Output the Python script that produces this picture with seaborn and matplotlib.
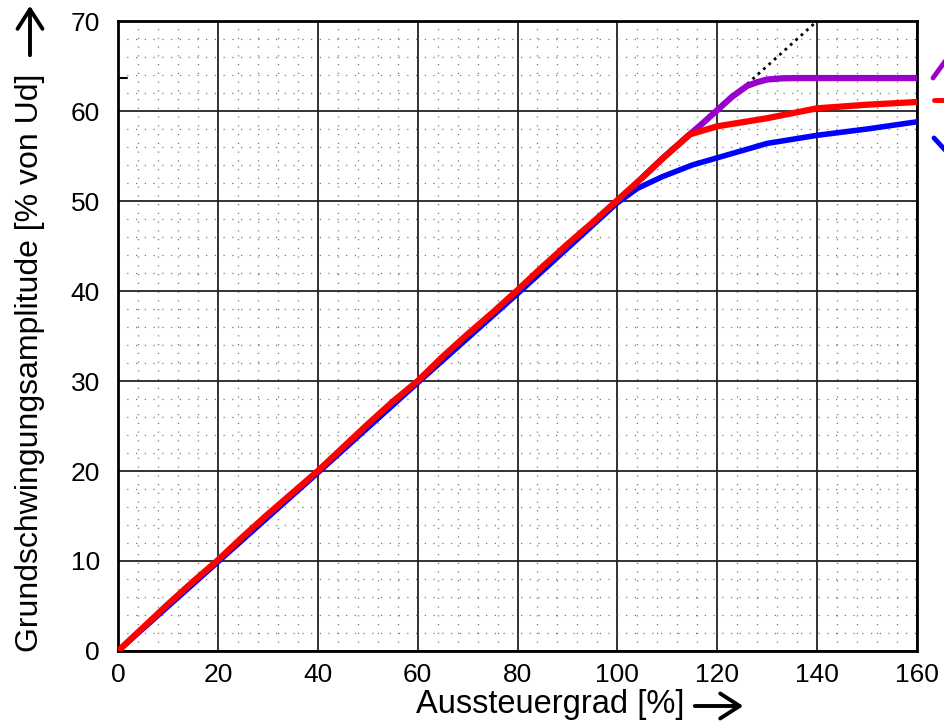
import numpy as np
import pandas as pd
import matplotlib
matplotlib.use("Agg")
import matplotlib.pyplot as plt
from matplotlib.ticker import MultipleLocator
from matplotlib.lines import Line2D
import seaborn as sns

# ---- data ----
x_blue = [0, 20, 40, 60, 80, 100, 104, 109, 115, 120, 125, 130, 140, 150, 160]
y_blue = [0, 9.9, 19.8, 29.8, 39.7, 49.8, 51.4, 52.7, 54.0, 54.8, 55.6, 56.4, 57.3, 58.0, 58.8]

x_red = [0, 5, 10, 15, 20, 25, 30, 35, 40, 45, 50, 55, 60, 65, 70, 75, 80, 85,
         90, 95, 100, 105, 109, 114.5, 120, 130, 140, 150, 160]
y_red = [0, 2.6, 5.2, 7.7, 10.1, 12.7, 15.2, 17.6, 20.0, 22.6, 25.2, 27.7, 30.0,
         32.7, 35.2, 37.6, 40.1, 42.7, 45.2, 47.6, 50.1, 52.6, 54.7, 57.4, 58.3,
         59.2, 60.3, 60.7, 61.0]

x_purple = [105, 109, 114.5, 117, 120, 123, 126, 128, 130, 133, 136, 160]
y_purple = [52.6, 54.7, 57.4, 58.6, 60.1, 61.6, 62.8, 63.2, 63.5, 63.63, 63.66, 63.66]

x_dot = [126, 140]
y_dot = [63, 70]

y_limit_tick = 200 / np.pi  # 63.66 % level marked on the left axis

x_ticks = [0, 20, 40, 60, 80, 100, 120, 140, 160]
y_ticks = [0, 10, 20, 30, 40, 50, 60, 70]

# ---- style ----
sns.set_style("white")
plt.rcParams["font.family"] = ["Liberation Sans", "DejaVu Sans"]

fig = plt.figure(figsize=(9.45, 7.21), dpi=100)
ax = fig.add_axes([118 / 945, 1 - 651 / 721, 799 / 945, 630 / 721])

df_b = pd.DataFrame({"x": x_blue, "y": y_blue})
df_r = pd.DataFrame({"x": x_red, "y": y_red})
df_p = pd.DataFrame({"x": x_purple, "y": y_purple})
df_d = pd.DataFrame({"x": x_dot, "y": y_dot})

sns.lineplot(data=df_d, x="x", y="y", ax=ax, color="black", lw=2.0,
             linestyle=(0, (1, 1.6)), sort=False, estimator=None, zorder=3)
sns.lineplot(data=df_b, x="x", y="y", ax=ax, color="#0000ff", lw=4.0,
             sort=False, estimator=None, zorder=4)
sns.lineplot(data=df_p, x="x", y="y", ax=ax, color="#9900cc", lw=4.5,
             sort=False, estimator=None, zorder=5)
sns.lineplot(data=df_r, x="x", y="y", ax=ax, color="#ff0000", lw=4.5,
             sort=False, estimator=None, zorder=6)

ax.set_xlim(0, 160)
ax.set_ylim(0, 70)
ax.set_xticks(x_ticks)
ax.set_yticks(y_ticks)
ax.set_xticklabels([str(v) for v in x_ticks])
ax.set_yticklabels([str(v) for v in y_ticks])
ax.xaxis.set_minor_locator(MultipleLocator(4))
ax.yaxis.set_minor_locator(MultipleLocator(2))

ax.grid(which="major", color="#222222", lw=1.3, zorder=1)
ax.grid(which="minor", color="#777777", lw=0.9, linestyle=(0, (1, 6)), zorder=1)
ax.set_axisbelow(True)

ax.tick_params(axis="both", which="both", length=0, labelsize=19, labelcolor="black")
ax.tick_params(axis="x", pad=9)
ax.tick_params(axis="y", pad=13)

for s in ax.spines.values():
    s.set_color("black")
    s.set_linewidth(2.0)

# short marker at the theoretical limit level on the left axis
ax.axhline(y_limit_tick, xmin=0, xmax=0.011, color="black", lw=1.5, zorder=7)

ax.set_xlabel("Aussteuergrad [%]", fontsize=23.5, color="black")
ax.set_ylabel("Grundschwingungsamplitude [% von Ud]", fontsize=23, color="black")
ax.xaxis.set_label_coords(0.541, -0.060)
ax.yaxis.set_label_coords(-0.091, 0.458)

# arrows next to the axis titles
arrow_kw = dict(arrowstyle="->,head_length=0.7,head_width=0.45", lw=2.8, color="black")
fig.add_artist(matplotlib.patches.FancyArrowPatch(
    (692 / 945, 1 - 706 / 721), (746 / 945, 1 - 706 / 721),
    transform=fig.transFigure, mutation_scale=20, **arrow_kw))
fig.add_artist(matplotlib.patches.FancyArrowPatch(
    (30 / 945, 1 - 58 / 721), (30 / 945, 1 - 3 / 721),
    transform=fig.transFigure, mutation_scale=20, **arrow_kw))

# partially visible legend glyphs at the right edge
fig.add_artist(Line2D([933 / 945, 946 / 945], [1 - 78 / 721, 1 - 60 / 721],
                      color="#9900cc", lw=3.5))
fig.add_artist(Line2D([934 / 945, 946 / 945], [1 - 100 / 721, 1 - 100 / 721],
                      color="#ff0000", lw=3.5))
fig.add_artist(Line2D([934 / 945, 946 / 945], [1 - 138 / 721, 1 - 151 / 721],
                      color="#0000ff", lw=3.5))

fig.savefig("out.png", dpi=100)
